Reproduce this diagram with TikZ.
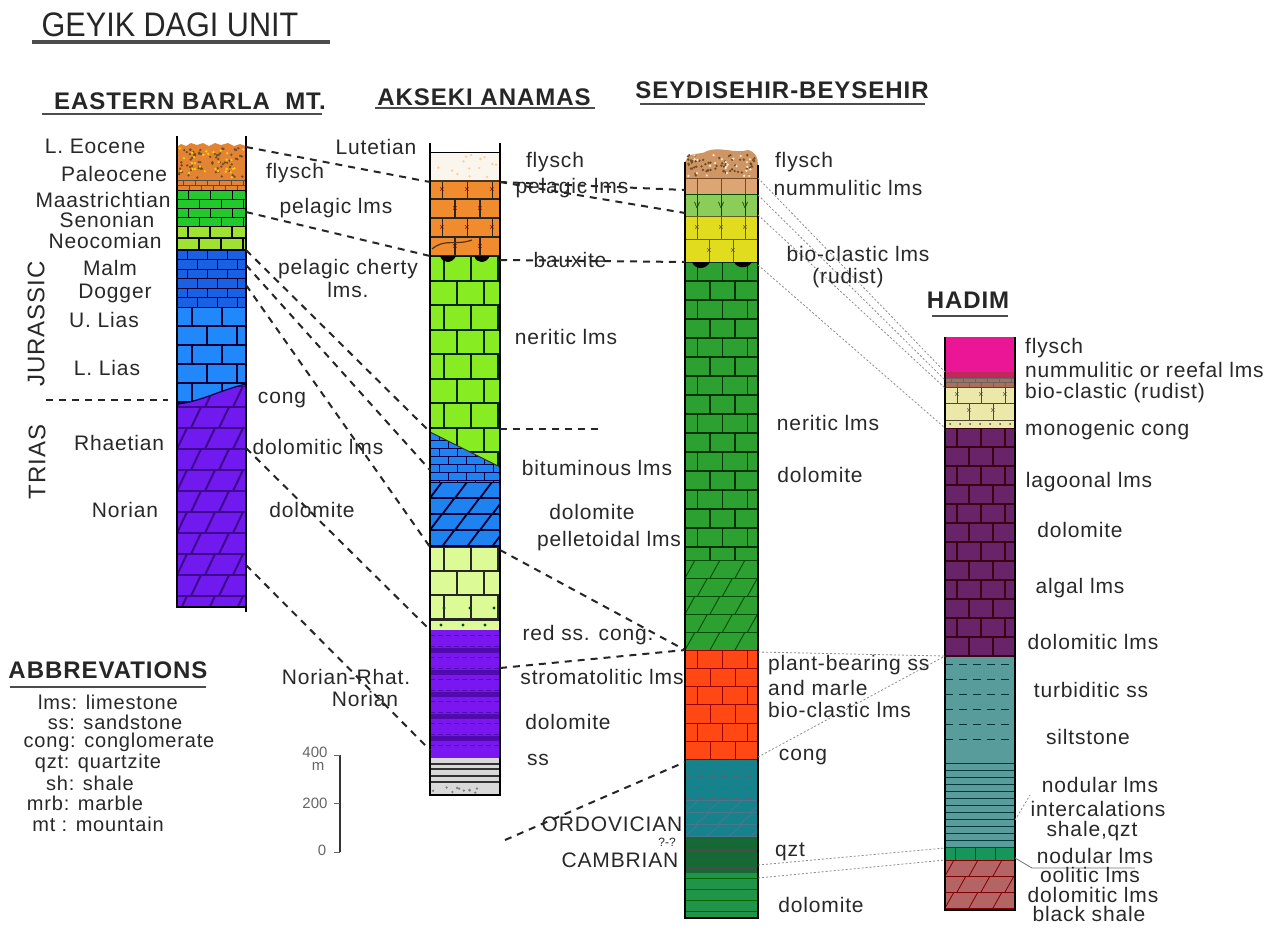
\documentclass[tikz,border=0pt]{standalone}
\usepackage{fontspec}
\setmainfont{Liberation Sans}
\newfontfamily\labelfam[LetterSpace=4]{Liberation Sans}
\usepackage{graphicx}

\definecolor{txt}{RGB}{40,40,40}
\definecolor{cOrF}{RGB}{226,132,52}
\definecolor{cGrn1}{RGB}{34,200,44}
\definecolor{cLim1}{RGB}{160,226,50}
\definecolor{cBlu1}{RGB}{26,96,226}
\definecolor{cBlu2}{RGB}{32,136,250}
\definecolor{cPur1}{RGB}{112,26,240}
\definecolor{cPale}{RGB}{250,246,238}
\definecolor{cOr2}{RGB}{240,140,45}
\definecolor{cLim2}{RGB}{136,236,34}
\definecolor{cBlu3}{RGB}{30,130,240}
\definecolor{cPLim}{RGB}{220,250,150}
\definecolor{cPur2}{RGB}{122,22,240}
\definecolor{cPurD}{RGB}{80,10,175}
\definecolor{cBrF}{RGB}{205,150,100}
\definecolor{cTan}{RGB}{220,165,115}
\definecolor{cLG3}{RGB}{140,205,90}
\definecolor{cYel}{RGB}{225,220,30}
\definecolor{cGrn3}{RGB}{45,160,50}
\definecolor{cRed}{RGB}{255,72,20}
\definecolor{cTeal}{RGB}{22,130,140}
\definecolor{cDG}{RGB}{22,105,52}
\definecolor{cG4}{RGB}{32,148,72}
\definecolor{cMag}{RGB}{235,22,150}
\definecolor{cDR}{RGB}{190,40,90}
\definecolor{cBr4}{RGB}{170,110,90}
\definecolor{cPY}{RGB}{235,232,170}
\definecolor{cPur4}{RGB}{105,35,105}
\definecolor{cTeal4}{RGB}{88,156,156}
\definecolor{cG5}{RGB}{22,150,90}
\definecolor{cBrn}{RGB}{180,100,100}

\newcommand\lblfont{\labelfam\fontsize{21}{23}\selectfont}
\newcommand\hdrfont{\labelfam\bfseries\fontsize{24}{26}\selectfont}

% x1 y1 x2 y2 row brick style
\newcommand\bricks[7]{%
  \begin{scope}
    \clip (#1,#2) rectangle (#3,#4);
    \pgfmathtruncatemacro\nrow{(#4-#2)/#5}
    \pgfmathtruncatemacro\ncol{(#3-#1)/#6+1}
    \foreach \k in {0,...,\nrow}{
      \pgfmathsetmacro\ya{#2+\k*#5}
      \pgfmathsetmacro\yb{\ya+#5}
      \pgfmathsetmacro\off{mod(\k,2)*#6/2-#6/2}
      \draw[#7] (#1,\ya) -- (#3,\ya);
      \foreach \j in {0,...,\ncol}
        \draw[#7] ({#1+\off+\j*#6},\ya) -- ({#1+\off+\j*#6},\yb);
    }
  \end{scope}}
% x1 y1 x2 y2 row brick slant style
\newcommand\slants[8]{%
  \begin{scope}
    \clip (#1,#2) rectangle (#3,#4);
    \pgfmathtruncatemacro\nrow{(#4-#2)/#5}
    \pgfmathtruncatemacro\ncol{(#3-#1)/#6+1}
    \foreach \k in {0,...,\nrow}{
      \pgfmathsetmacro\ya{#2+\k*#5}
      \pgfmathsetmacro\yb{\ya+#5}
      \pgfmathsetmacro\off{mod(\k,2)*#6/2-#6}
      \draw[#8] (#1,\ya) -- (#3,\ya);
      \foreach \j in {0,...,\ncol}
        \draw[#8] ({#1+\off+\j*#6},\yb) -- ({#1+\off+\j*#6+#7},\ya);
    }
  \end{scope}}
% x1 y1 x2 y2 row style
\newcommand\hrows[6]{%
  \pgfmathtruncatemacro\nrow{(#4-#2)/#5}
  \foreach \k in {1,...,\nrow}{
    \pgfmathsetmacro\ya{#2+\k*#5-#5/2}
    \draw[#6] (#1,\ya) -- (#3,\ya);
  }}
% x1 y1 x2 y2 count style
\newcommand\speckle[6]{%
  \foreach \i in {1,...,#5}{
    \pgfmathsetmacro\px{#1+2+rnd*(#3-#1-4)}
    \pgfmathsetmacro\py{#2+2+rnd*(#4-#2-4)}
    \fill[#6] (\px,\py) circle (1.3pt);
  }}

\begin{document}
\begin{tikzpicture}[x=1pt,y=-1pt]
  \tikzset{
    lbl/.style={font=\lblfont, text=txt, inner sep=0pt},
    hdr/.style={font=\hdrfont, text=black!85, inner sep=0pt},
    uline/.style={line width=2.6pt, black!70},
    corr/.style={line width=2pt, dash pattern=on 7pt off 6pt, black!85},
    tie/.style={line width=0.8pt, dash pattern=on 2pt off 2pt, black!45},
    colside/.style={line width=1.6pt, black},
    xm/.style={font=\fontsize{9}{9}\selectfont, inner sep=0pt}
  }
  \pgfmathsetseed{11}
  \fill[white] (0,0) rectangle (1276,927);
  \useasboundingbox (0,0) rectangle (1276,927);

  %headers
  \node[inner sep=0pt, text=black!85] (htitle) at (170,25)
    {\scalebox{0.9}[1]{\fontsize{34}{36}\selectfont GEYIK DAGI UNIT}};
  \draw[uline, line width=3.2pt] (32,42) -- (330,42);
  \node[hdr] (heb) at (190,101) {EASTERN BARLA\ \ MT.};
  \draw[uline] (42,114) -- (322,114);
  \node[hdr] (hak) at (484,97) {AKSEKI ANAMAS};
  \draw[uline] (375,108) -- (595,108);
  \node[hdr] (hsb) at (782,90) {SEYDISEHIR-BEYSEHIR};
  \draw[uline] (640,104) -- (925,104);
  \node[hdr] (hhad) at (968,300) {HADIM};
  \draw[uline] (932,316) -- (1008,316);

  %column1
  \fill[cOrF] (177,147) -- (181,144) -- (186,146) -- (191,143) -- (197,145)
    -- (203,143) -- (209,146) -- (215,143) -- (221,145) -- (228,143)
    -- (234,146) -- (240,144) -- (246,146) -- (246,190) -- (177,190) -- cycle;
  \speckle{177}{146}{246}{180}{70}{brown!60!black}
  \speckle{177}{146}{246}{180}{30}{yellow!70!orange}
  \bricks{177}{180}{246}{190}{5}{12}{black!70, line width=0.6pt}
  \fill[cGrn1] (177,190) rectangle (246,226);
  \bricks{177}{190}{246}{226}{9}{22}{black, line width=1pt}
  \fill[cLim1] (177,226) rectangle (246,250);
  \bricks{177}{226}{246}{250}{12}{22}{black, line width=1.4pt}
  \fill[cBlu1] (177,250) rectangle (246,307);
  \bricks{177}{250}{246}{307}{9.5}{20}{black!80!blue, line width=1pt}
  \fill[cBlu2] (177,307) rectangle (246,404);
  \bricks{177}{307}{246}{404}{19}{30}{black!80!blue, line width=1.4pt}
  \begin{scope}
    \clip (177,404) .. controls (200,402) and (220,390) .. (246,384)
      -- (246,607) -- (177,607) -- cycle;
    \fill[cPur1] (177,380) rectangle (246,607);
    \slants{177}{386}{246}{607}{21}{28}{10}{cPurD!80!black, line width=2pt}
  \end{scope}
  \draw[black!70!blue, line width=1.2pt] (177,404) .. controls (200,402) and (220,390) .. (246,384);
  \draw[colside] (177,136) -- (177,607) -- (246,607);
  \draw[colside] (246,136) -- (246,612);

  %column2
  \fill[cPale] (430,152) rectangle (500,180);
  \speckle{430}{152}{500}{180}{14}{orange!40}
  \fill[cOr2] (430,180) rectangle (500,256);
  \bricks{430}{180}{500}{256}{19}{25}{black!85, line width=1.4pt}
  \foreach \p in {(442,190),(467,190),(492,190),(455,209),(480,209),
                  (442,228),(467,228),(492,228),(455,247),(480,247)}
    \node[xm, text=red!50!black] at \p {×};
  \draw[brown!40!black, line width=2pt] (430,181) -- (500,181);
  \draw[brown!40!black, line width=1.2pt] (432,249) .. controls (445,238) and (455,246) .. (472,240);
  \fill[cLim2] (430,256) rectangle (500,547);
  \bricks{430}{256}{500}{547}{24.5}{27}{black!85!green, line width=2pt}
  \begin{scope}
    \clip (430,432) -- (500,467) -- (500,547) -- (430,547) -- cycle;
    \fill[cBlu3] (430,430) rectangle (500,547);
    \bricks{430}{432}{500}{482}{8}{18}{black!70!blue, line width=0.9pt}
    \slants{430}{482}{500}{547}{16}{25}{12}{black!80!blue, line width=1.8pt}
  \end{scope}
  \draw[black!80, line width=1pt] (430,432) -- (500,467);
  \fill[black] (440,256) .. controls (443,264) and (452,264) .. (456,256) -- cycle;
  \fill[black] (474,256) .. controls (477,264) and (486,264) .. (490,256) -- cycle;
  \fill[cPLim] (430,547) rectangle (500,630);
  \bricks{430}{547}{500}{620}{24}{27}{black!85, line width=2pt}
  \draw[black!85, line width=2pt] (430,620) -- (500,620);
  \foreach \p in {(444,608),(470,608),(494,608),(441,625),(463,625),(485,625)}
    \fill[black!70!green] \p circle (1.6pt);
  \fill[cPur2] (430,630) rectangle (500,758);
  \foreach \yy in {648,670,692,714,736}
    \fill[cPurD] (430,\yy) rectangle (500,\yy+5);
  \hrows{430}{630}{500}{758}{11}{cPurD, line width=0.7pt, dash pattern=on 5pt off 3pt}
  \fill[gray!30] (430,758) rectangle (500,795);
  \foreach \yy in {764,769,776,782}
    \draw[black!80, line width=1.3pt] (430,\yy) -- (500,\yy);
  \speckle{430}{785}{500}{795}{10}{black!50}
  \draw[colside, line width=1pt] (430,152) -- (500,152);
  \draw[colside] (430,143) -- (430,795) -- (500,795) -- (500,143);

  %column3
  \fill[cBrF] (685,178) -- (685,162) .. controls (690,150) and (700,156) .. (707,151)
    .. controls (720,146) and (735,154) .. (748,150) .. controls (756,152) and (758,158) .. (758,165)
    -- (758,178) -- cycle;
  \speckle{686}{153}{757}{178}{60}{brown!60!black}
  \speckle{686}{153}{757}{178}{25}{white!80!orange}
  \fill[cTan] (685,178) rectangle (758,194);
  \bricks{685}{178}{758}{194}{16}{24}{brown!60!black, line width=0.8pt}
  \fill[cLG3] (685,194) rectangle (758,216);
  \bricks{685}{194}{758}{216}{22}{24}{green!30!black, line width=0.9pt}
  \foreach \p in {(697,205),(721,205),(745,205)}
    \node[xm, text=green!30!black] at \p {V};
  \fill[cYel] (685,216) rectangle (758,262);
  \bricks{685}{216}{758}{262}{23}{24}{olive!60!black, line width=0.9pt}
  \foreach \p in {(697,228),(721,228),(745,228),(709,251),(733,251)}
    \node[xm, text=black!70] at \p {×};
  \fill[cGrn3] (685,262) rectangle (758,650);
  \bricks{685}{262}{758}{560}{19}{25}{black!80!green, line width=1.2pt}
  \slants{685}{560}{758}{650}{18}{25}{10}{black!70!green, line width=0.9pt}
  \fill[black] (692,262) .. controls (695,270) and (706,270) .. (710,262) -- cycle;
  \fill[black] (734,262) .. controls (737,269) and (748,269) .. (752,262) -- cycle;
  \fill[cRed] (685,650) rectangle (758,760);
  \bricks{685}{650}{758}{760}{18.3}{25}{red!60!black, line width=1pt}
  \fill[cTeal] (685,760) rectangle (758,837);
  \hrows{685}{760}{758}{805}{11}{black!60!cyan, line width=0.8pt, dash pattern=on 6pt off 6pt}
  \slants{685}{800}{758}{837}{12}{22}{14}{black!50!cyan, line width=0.8pt}
  \fill[cDG] (685,837) rectangle (758,873);
  \hrows{685}{837}{758}{873}{9}{black!70, line width=0.9pt}
  \fill[cG4] (685,873) rectangle (758,918);
  \hrows{685}{873}{758}{918}{11}{black!60!green, line width=0.8pt}
  \draw[colside, line width=1.2pt] (685,162) -- (685,918) -- (758,918) -- (758,165);

  %column4
  \fill[cMag] (945,337) rectangle (1015,372);
  \fill[cDR] (945,372) rectangle (1015,378);
  \fill[cBr4] (945,378) rectangle (1015,387);
  \bricks{945}{378}{1015}{387}{4.5}{12}{black!60, line width=0.5pt}
  \fill[cPY] (945,387) rectangle (1015,428);
  \bricks{945}{387}{1015}{420}{16.5}{24}{black!60!olive, line width=0.8pt}
  \draw[black!60!olive, line width=0.8pt] (945,420) -- (1015,420);
  \foreach \p in {(957,395),(981,395),(1005,395),(969,411),(993,411)}
    \node[xm, text=black!70] at \p {×};
  \foreach \x in {950,960,970,980,990,1000,1010}
    \fill[black!70] (\x,424) circle (1pt);
  \fill[cPur4] (945,428) rectangle (1015,657);
  \bricks{945}{428}{1015}{657}{19}{24}{black!70!purple, line width=1.1pt}
  \fill[cTeal4] (945,657) rectangle (1015,847);
  \hrows{945}{657}{1015}{760}{15}{black!60!teal, line width=0.8pt, dash pattern=on 8pt off 6pt}
  \hrows{945}{760}{1015}{847}{7}{black!55!teal, line width=0.8pt}
  \fill[cG5] (945,847) rectangle (1015,860);
  \bricks{945}{847}{1015}{860}{13}{20}{black!80, line width=0.8pt}
  \fill[cBrn] (945,860) rectangle (1015,910);
  \slants{945}{860}{1015}{910}{16}{24}{9}{red!50!black, line width=0.8pt}
  \draw[black!60, line width=1pt, dash pattern=on 2pt off 2pt] (945,337) -- (1015,337);
  \draw[colside, line width=1.2pt] (945,337) -- (945,910) -- (1015,910) -- (1015,337);

  %correlation points
  \coordinate (e1) at (246,147);  \coordinate (a1) at (430,182);
  \coordinate (e2) at (246,212);  \coordinate (a2) at (430,256);
  \coordinate (e3) at (246,250);  \coordinate (a3) at (430,432);
  \coordinate (e4) at (246,265);  \coordinate (a4) at (430,470);
  \coordinate (e5) at (246,285);  \coordinate (a5) at (430,547);
  \coordinate (e6) at (246,448);  \coordinate (a6) at (430,630);
  \coordinate (e7) at (246,565);  \coordinate (a7) at (430,750);
  \coordinate (a8) at (500,182);  \coordinate (s1) at (685,190);
  \coordinate (s2) at (685,213);
  \coordinate (a9) at (500,260);  \coordinate (s3) at (685,262);
  \coordinate (a10) at (500,429); \coordinate (a10e) at (600,429);
  \coordinate (a11) at (500,550); \coordinate (s4) at (685,650);
  \coordinate (a12) at (500,668);
  \coordinate (o1) at (505,840);  \coordinate (s5) at (685,762);
  \coordinate (s6) at (758,178);  \coordinate (h1) at (945,372);
  \coordinate (s7) at (758,195);  \coordinate (h2) at (945,380);
  \coordinate (s8) at (758,215);  \coordinate (h3) at (945,388);
  \coordinate (s9) at (758,265);  \coordinate (h4) at (945,428);
  \coordinate (s10) at (758,652); \coordinate (h5) at (945,656);
  \coordinate (s11) at (758,757);
  \coordinate (s12) at (758,865); \coordinate (h6) at (945,848);
  \coordinate (s13) at (758,878); \coordinate (h7) at (945,860);
  \coordinate (h8) at (1015,820); \coordinate (h9) at (1030,795);
  \coordinate (h10) at (1015,858); \coordinate (h11) at (1032,868);
  \coordinate (h12) at (1135,868);
  \coordinate (jt1) at (46,400);  \coordinate (jt2) at (168,400);

  \draw[corr] (jt1) -- (jt2);
  \foreach \u/\v in {e1/a1,e2/a2,e3/a3,e4/a4,e5/a5,e6/a6,e7/a7,
                     a8/s1,a8/s2,a9/s3,a10/a10e,a11/s4,a12/s4,o1/s5}
    \draw[corr] (\u) -- (\v);
  \foreach \u/\v in {s6/h1,s7/h2,s8/h3,s9/h4,s10/h5,s11/h5,s12/h6,s13/h7,h8/h9}
    \draw[tie] (\u) -- (\v);
  \draw[black!55, line width=0.8pt] (h10) -- (h11) -- (h12);

  %column1 labels
  \node[lbl] (leo) at (95,146) {L. Eocene};
  \node[lbl] (pal) at (114,174) {Paleocene};
  \node[lbl] (maa) at (103,200) {Maastrichtian};
  \node[lbl] (sen) at (107,220) {Senonian};
  \node[lbl] (neo) at (105,241) {Neocomian};
  \node[lbl] (mal) at (110,268) {Malm};
  \node[lbl] (dog) at (115,293) {Dogger};
  \node[lbl] (uli) at (104,320) {U. Lias};
  \node[lbl] (lli) at (107,368) {L. Lias};
  \node[lbl, font=\labelfam\fontsize{24}{26}\selectfont, rotate=90] (jur) at (36,324) {JURASSIC};
  \node[lbl, font=\labelfam\fontsize{24}{26}\selectfont, rotate=90] (tri) at (37,462) {TRIAS};
  \node[lbl] (rha) at (119,443) {Rhaetian};
  \node[lbl] (nor) at (125,510) {Norian};
  \node[lbl] (fl1) at (295,173) {flysch};
  \node[lbl] (pl1) at (336,208) {pelagic lms};
  \node[lbl, align=center] (pc1) at (348,278) {pelagic cherty\\lms.};
  \node[lbl] (cg1) at (282,400) {cong};
  \node[lbl] (dl1) at (318,447) {dolomitic lms};
  \node[lbl] (do1) at (312,510) {dolomite};

  %column2 labels
  \node[lbl] (lut) at (376,147) {Lutetian};
  \node[lbl] (nr1) at (346,677) {Norian-Rhat.};
  \node[lbl] (nr2) at (365,699) {Norian};
  \node[lbl] (fl2) at (555,162) {flysch};
  \node[lbl] (pl2) at (572,188) {pelagic lms};
  \node[lbl] (bx2) at (570,260) {bauxite};
  \node[lbl] (ne2) at (566,337) {neritic lms};
  \node[lbl] (bi2) at (597,468) {bituminous lms};
  \node[lbl] (do2) at (592,512) {dolomite};
  \node[lbl] (pe2) at (609,541) {pelletoidal lms};
  \node[lbl] (rs2) at (588,635) {red ss. cong.};
  \node[lbl] (st2) at (602,677) {stromatolitic lms};
  \node[lbl] (dm2) at (568,722) {dolomite};
  \node[lbl] (ss2) at (538,760) {ss};

  %column3 labels
  \node[lbl] (ord) at (612,824) {ORDOVICIAN};
  \node[lbl, font=\fontsize{12}{12}\selectfont] (qm) at (667,842) {?-?};
  \node[lbl] (cam) at (620,860) {CAMBRIAN};
  \node[lbl] (fl3) at (804,162) {flysch};
  \node[lbl] (nu3) at (848,188) {nummulitic lms};
  \node[lbl] (bc3) at (858,254) {bio-clastic lms};
  \node[lbl] (ru3) at (848,278) {(rudist)};
  \node[lbl] (ne3) at (828,423) {neritic lms};
  \node[lbl] (do3) at (820,475) {dolomite};
  \node[lbl, anchor=west] (pb3) at (768,665) {plant-bearing ss};
  \node[lbl, anchor=west] (am3) at (768,688) {and marle};
  \node[lbl, anchor=west] (bl3) at (768,710) {bio-clastic lms};
  \node[lbl] (cg3) at (803,757) {cong};
  \node[lbl] (qz3) at (790,852) {qzt};
  \node[lbl] (dm3) at (821,905) {dolomite};

  %column4 labels
  \node[lbl, anchor=west] (fl4) at (1025,348) {flysch};
  \node[lbl, anchor=west] (nu4) at (1025,370) {nummulitic or reefal lms};
  \node[lbl, anchor=west] (bc4) at (1025,393) {bio-clastic (rudist)};
  \node[lbl, anchor=west] (mc4) at (1025,430) {monogenic cong};
  \node[lbl] (lg4) at (1089,482) {lagoonal lms};
  \node[lbl] (do4) at (1080,530) {dolomite};
  \node[lbl] (al4) at (1080,588) {algal lms};
  \node[lbl] (dl4) at (1093,642) {dolomitic lms};
  \node[lbl] (tu4) at (1091,690) {turbiditic ss};
  \node[lbl] (si4) at (1088,737) {siltstone};
  \node[lbl] (nd4) at (1100,785) {nodular lms};
  \node[lbl] (in4) at (1098,809) {intercalations};
  \node[lbl] (sq4) at (1092,831) {shale,qzt};
  \node[lbl] (nl4) at (1095,856) {nodular lms};
  \node[lbl] (oo4) at (1090,875) {oolitic lms};
  \node[lbl] (dd4) at (1093,895) {dolomitic lms};
  \node[lbl] (bs4) at (1089,914) {black shale};

  %abbrevations
  \node[hdr] (abb) at (108,670) {ABBREVATIONS};
  \draw[uline] (10,687) -- (206,687);
  \begin{scope}[every node/.style={lbl, font=\labelfam\fontsize{20}{22}\selectfont}]
    \node (ab1) at (108,702) {lms: limestone};
    \node (ab2) at (115,722) {ss: sandstone};
    \node (ab3) at (119,742) {cong: conglomerate};
    \node (ab4) at (98,763) {qzt: quartzite};
    \node (ab5) at (90,783) {sh: shale};
    \node (ab6) at (85,803) {mrb: marble};
    \node (ab7) at (98,824) {mt : mountain};
  \end{scope}

  %scale
  \begin{scope}[every node/.style={inner sep=0pt, text=black!60, font=\fontsize{15}{15}\selectfont}]
    \node (s400) at (315,752) {400};
    \node (sm) at (318,766) {m};
    \node (s200) at (315,803) {200};
    \node (s0) at (322,850) {0};
  \end{scope}
  \coordinate (bt) at (340,755); \coordinate (bb) at (340,852);
  \draw[line width=2.5pt, black!80] (bt) -- (bb);
  \draw[line width=1pt, black!60] (334,755) -- (340,755) (334,803) -- (340,803) (334,852) -- (340,852);
\end{tikzpicture}
\end{document}
